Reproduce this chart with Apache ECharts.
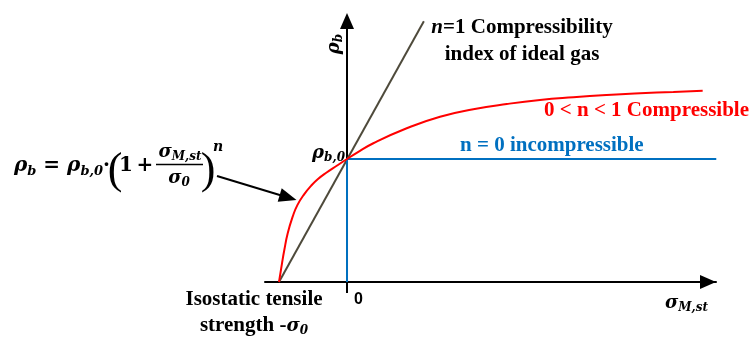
<!DOCTYPE html>
<html>
<head>
<meta charset="utf-8">
<script src="https://cdn.jsdelivr.net/npm/echarts@6/dist/echarts.min.js"></script>
<style>
  html, body { margin: 0; padding: 0; background: #fff; }
  #chart { width: 752px; height: 338px; }
</style>
</head>
<body>
<div id="chart"></div>
<script>
// stress in units of sigma_0, density in units of rho_b,0
var X_MIN = -1.206, X_MAX = 5.426;
var Y_MIN = 0, Y_MAX = 2.122;

// n = 1, ideal gas (straight line)
var idealX = [-1, 1.13];
var idealY = [0, 2.12];

// n = 0, incompressible
var incompX = [0, 0, 5.43];
var incompY = [0, 1, 1];

// 0 < n < 1, compressible
var compX = [-1, -0.956, -0.922, -0.872, -0.799, -0.73, -0.628, -0.529, -0.431, -0.3, -0.151, 0,
  0.143, 0.387, 0.878, 1.368, 1.857, 2.349, 2.838, 3.328, 3.819, 4.309, 4.799, 5.23];
var compY = [0, 0.152, 0.26, 0.396, 0.531, 0.625, 0.715, 0.782, 0.835, 0.89, 0.945, 1,
  1.05, 1.128, 1.25, 1.344, 1.404, 1.447, 1.48, 1.502, 1.52, 1.534, 1.545, 1.555];

var xTicks = [0];

function pairs(xs, ys) {
  return xs.map(function (x, i) { return [x, ys[i]]; });
}

var SERIF = 'Liberation Serif';
var MATH = 'DejaVu Serif';
var RED = '#ff0000', BLUE = '#0070c0', GREY = '#4e4a3b';

// rich styles for math bits
function mathRich(size, subSize, subPad) {
  return {
    v: { fontFamily: MATH, fontSize: size, fontWeight: 'bold', fontStyle: 'italic' },
    s: { fontFamily: MATH, fontSize: subSize, fontWeight: 'bold', fontStyle: 'italic', padding: [subPad, 0, 0, 0] },
    n: { fontFamily: MATH, fontSize: size, fontWeight: 'bold' },
    t: { fontFamily: SERIF, fontSize: 21, fontWeight: 'bold' },
    i: { fontFamily: SERIF, fontSize: 21, fontWeight: 'bold', fontStyle: 'italic' }
  };
}

function txt(x, y, text, extra, rot) {
  var style = {
    text: text, x: 0, y: 0, fill: '#000',
    align: 'left', verticalAlign: 'middle',
    fontFamily: SERIF, fontSize: 21, fontWeight: 'bold'
  };
  for (var k in extra) style[k] = extra[k];
  return { type: 'text', x: x, y: y, rotation: rot || 0, style: style, z: 100 };
}

var myChart = echarts.init(document.getElementById('chart'));

var option = {
  animation: false,
  backgroundColor: '#fff',
  grid: { left: 265, right: 36, top: 21, bottom: 56 },
  xAxis: {
    type: 'value', min: X_MIN, max: X_MAX,
    splitLine: { show: false },
    axisLine: {
      onZero: false,
      symbol: ['none', 'triangle'], symbolSize: [14, 16], symbolOffset: [0, -8],
      lineStyle: { color: '#000', width: 2 }
    },
    axisTick: { show: true, customValues: xTicks, length: 11, lineStyle: { color: '#000', width: 2 } },
    axisLabel: {
      customValues: xTicks, margin: 10, align: 'left', padding: [0, 0, 0, 7],
      color: '#000', fontFamily: 'Liberation Sans', fontWeight: 'bold', fontSize: 16,
      formatter: function (v) { return String(v); }
    }
  },
  yAxis: {
    type: 'value', min: Y_MIN, max: Y_MAX,
    splitLine: { show: false },
    axisLine: {
      onZero: true,
      symbol: ['none', 'triangle'], symbolSize: [14, 16],
      lineStyle: { color: '#000', width: 2 }
    },
    axisTick: { show: false },
    axisLabel: { show: false }
  },
  series: [
    {
      name: 'n=1', type: 'line', data: pairs(idealX, idealY),
      symbol: 'none', lineStyle: { color: GREY, width: 2 }
    },
    {
      name: 'n=0', type: 'line', data: pairs(incompX, incompY),
      symbol: 'none', clip: false, lineStyle: { color: BLUE, width: 2 }
    },
    {
      name: '0<n<1', type: 'line', data: pairs(compX, compY),
      symbol: 'none', smooth: 0.5,
      lineStyle: { color: RED, width: 2 }
    }
  ],
  graphic: [
    // axis names
    txt(334, 44, '{v|ρ}{s|b}', { align: 'center', rich: mathRich(18, 12, 10) }, Math.PI / 2),
    txt(665, 303, '{v|σ}{s|M,st}', { rich: mathRich(18, 12, 10) }),
    txt(345, 153, '{v|ρ}{s|b,0}', { align: 'right', rich: mathRich(18, 12, 10) }),

    // curve labels
    txt(522, 28, '{i|n}{t|=1 Compressibility}', { align: 'center', rich: mathRich(18, 12, 10) }),
    txt(522, 55, 'index of ideal gas', { align: 'center' }),
    txt(544, 111, '0 < n < 1 Compressible', { fill: RED }),
    txt(460, 146, 'n = 0 incompressible', { fill: BLUE }),

    // tensile strength
    txt(254, 300, 'Isostatic tensile', { align: 'center' }),
    txt(254, 326, '{t|strength -}{v|σ}{s|0}', { align: 'center', rich: mathRich(18, 12, 10) }),

    // equation
    txt(14, 166, '{v|ρ}{s|b}{n| = }{v|ρ}{s|b,0}{n|·}', { rich: mathRich(20, 13, 12) }),
    txt(115, 171, '(', { align: 'center', fontFamily: SERIF, fontWeight: 'normal', fontSize: 44 }),
    txt(126, 166, '1', { align: 'center', fontFamily: MATH, fontWeight: 'bold', fontSize: 20 }),
    txt(145, 166, '+', { align: 'center', fontFamily: MATH, fontWeight: 'bold', fontSize: 20 }),
    txt(180, 152, '{v|σ}{s|M,st}', { align: 'center', rich: mathRich(18, 12, 10) }),
    { type: 'line', shape: { x1: 156, y1: 164.5, x2: 203, y2: 164.5 }, style: { stroke: '#000', lineWidth: 1.5 }, z: 100 },
    txt(179, 178, '{v|σ}{s|0}', { align: 'center', rich: mathRich(18, 12, 10) }),
    txt(208, 171, ')', { align: 'center', fontFamily: SERIF, fontWeight: 'normal', fontSize: 44 }),
    txt(218, 147, 'n', { align: 'center', fontFamily: MATH, fontWeight: 'bold', fontStyle: 'italic', fontSize: 14 }),

    // pointer arrow
    { type: 'line', shape: { x1: 217, y1: 176, x2: 283, y2: 196 }, style: { stroke: '#000', lineWidth: 2 }, z: 100 },
    { type: 'polygon', shape: { points: [[296.5, 200], [277.7, 201.7], [281.7, 188.3]] }, style: { fill: '#000' }, z: 100 }
  ]
};

myChart.setOption(option);
</script>
</body>
</html>
